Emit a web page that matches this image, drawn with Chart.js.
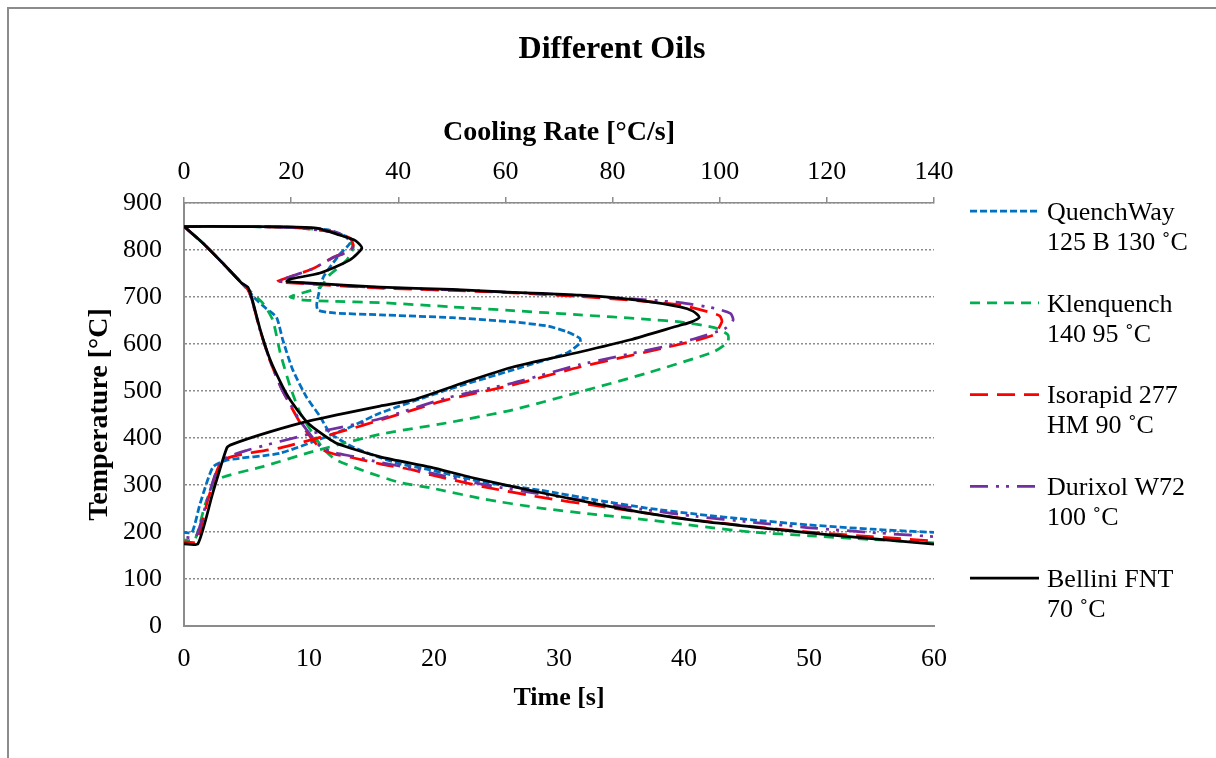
<!DOCTYPE html>
<html>
<head>
<meta charset="utf-8">
<script src="https://cdn.jsdelivr.net/npm/chart.js@4.4.0/dist/chart.umd.min.js"></script>
<style>
  html, body { margin: 0; padding: 0; background: #fff; overflow: hidden; }
  #frame { position: absolute; left: 7px; top: 7px; width: 1240px; height: 800px; border: 2px solid #8c8c8c; }
  #chart_one { position: absolute; left: 0; top: 0; }
</style>
</head>
<body>
<div id="frame"></div>
<canvas id="chart_one" width="1216" height="758"></canvas>
<script>
// cooling curves: time [s] vs temperature [°C]
var quenchTime = [0, 1.5, 3.1, 4.6, 5.2, 5.8, 6.6, 7.4, 7.9, 8.7, 9.8, 10.9, 11.7, 13.5, 15.7, 17.3, 19.7, 24, 28.5, 33, 37, 41, 45.4, 50, 55, 60];
var quenchTemp = [850, 815, 772, 730, 712, 694, 675, 657, 609, 545, 487, 445, 410, 381, 358, 345, 332, 306, 289, 268, 251, 238, 226, 215, 206, 199];

var klenTime = [0, 1.5, 3.1, 4.6, 5.3, 6.3, 7.1, 7.7, 8.5, 9.3, 10.3, 11.2, 12.2, 14.6, 17.3, 19.7, 24, 28.5, 33, 37, 41, 45.4, 50, 55, 60];
var klenTemp = [850, 815, 772, 730, 712, 687, 651, 581, 509, 453, 410, 375, 353, 328, 305, 294, 270, 251, 237, 226, 213, 200, 192, 184, 177];

var isoTime = [0, 1.5, 3.1, 4.6, 5.1, 5.4, 6.1, 6.9, 7.8, 8.5, 9.4, 10.9, 12, 13.5, 15.7, 18.3, 19.7, 24, 28.5, 33, 37, 41, 45.4, 50, 55, 60];
var isoTemp = [850, 815, 772, 730, 716, 697, 628, 563, 505, 470, 428, 378, 366, 358, 345, 332, 322, 296, 274, 256, 240, 225, 212, 200, 190, 181];

var duriTime = [0, 1.5, 3.1, 4.6, 5.1, 5.4, 6.1, 6.9, 7.8, 8.5, 9.4, 10.9, 12, 13.5, 15.7, 18.3, 19.7, 24, 28.5, 33, 37, 41, 45.4, 50, 55, 60];
var duriTemp = [850, 815, 772, 730, 716, 697, 628, 563, 505, 472, 432, 382, 369, 361, 348, 335, 326, 301, 281, 263, 247, 233, 221, 209, 199, 190];

var belliTime = [0, 1.5, 3.1, 4.6, 5.1, 5.4, 6.1, 6.9, 7.9, 8.5, 9.7, 10.3, 12.2, 15.7, 19.7, 23, 28.5, 33, 37, 41, 45.4, 50, 55, 60];
var belliTemp = [850, 815, 772, 730, 721, 700, 630, 566, 509, 481, 438, 423, 389, 360, 338, 316, 284, 260, 240, 224, 211, 198, 186, 174];

// cooling rate curves: rate [°C/s] vs temperature [°C]
var quenchRate = [0, 10, 20, 27, 30, 31, 29, 26, 24.8, 25, 28, 36.6, 50, 61.4, 68, 71.5, 73.9, 73.9, 71.5, 61.4, 49, 36.6, 30.4, 18, 8, 5.4, 3, 1.5, 0];
var quenchRateTemp = [850, 850, 848, 843, 830, 815, 790, 742, 687, 672, 666, 662, 656, 647, 638, 626, 612, 602, 581, 545, 502, 453, 420, 368, 353, 338, 260, 199, 199];

var klenRate = [0, 10, 20, 27, 30.4, 31.6, 30.4, 27, 25.4, 21, 19.8, 22, 27, 36.6, 50, 61.4, 73.9, 86, 92.6, 99, 101.5, 101.5, 98.8, 86.4, 73.9, 61.4, 49, 36.6, 24, 14.7, 6.2, 4, 2, 0];
var klenRateTemp = [850, 850, 848, 840, 826, 806, 779, 745, 721, 705, 700, 694, 691, 688, 679, 671, 662, 653, 647, 635, 620, 604, 583, 538, 498, 460, 432, 408, 371, 339, 311, 260, 183, 183];

var isoRate = [0, 10, 20, 28, 31, 31.6, 31, 28, 24, 19, 17.4, 18.5, 23, 36.6, 50, 61.4, 73.9, 85, 92.6, 97, 100, 100.4, 98.8, 89.4, 73.9, 61.4, 49, 36.6, 30.4, 18, 7.3, 4.5, 2.3, 0];
var isoRateTemp = [850, 850, 848, 838, 825, 810, 798, 785, 760, 740, 733, 731, 728, 719, 714, 709, 701, 692, 683, 671, 660, 647, 619, 591, 551, 513, 481, 438, 417, 379, 353, 270, 179, 179];

var duriRate = [0, 10, 20, 28, 31, 31.6, 31, 28, 24, 19, 17.6, 18.5, 23, 36.6, 50, 61.4, 73.9, 85, 92.6, 99, 102, 102.5, 101, 95, 89.4, 73.9, 61.4, 49, 36.6, 24, 11.8, 7, 4.5, 2.2, 0];
var duriRateTemp = [850, 850, 848, 838, 825, 810, 798, 785, 760, 740, 734, 732, 729, 720, 715, 710, 703, 695, 688, 676, 665, 651, 633, 610, 594, 556, 517, 485, 441, 410, 374, 352, 275, 189, 189];

var belliRate = [0, 10, 20, 25, 29, 32, 33.2, 31, 25.4, 19.8, 19.2, 23, 36.6, 50, 61.4, 73.9, 85, 92.6, 95, 96.2, 94.5, 92.6, 83.3, 73.9, 61.4, 52, 42.7, 36.6, 24, 16, 9.1, 8, 5.3, 2.6, 0];
var belliRateTemp = [850, 850, 849, 846, 832, 820, 804, 779, 751, 738, 733, 730, 721, 716, 710, 704, 693, 679, 670, 657, 646, 640, 609, 583, 551, 517, 481, 468, 438, 413, 387, 379, 280, 175, 175];

var oilNames = [
  ['QuenchWay', '125 B 130 \u02DAC'],
  ['Klenquench', '140 95 \u02DAC'],
  ['Isorapid 277', 'HM 90 \u02DAC'],
  ['Durixol W72', '100 \u02DAC'],
  ['Bellini FNT', '70 \u02DAC']
];

var coolTimes = [quenchTime, klenTime, isoTime, duriTime, belliTime];
var coolTemps = [quenchTemp, klenTemp, isoTemp, duriTemp, belliTemp];
var rates = [quenchRate, klenRate, isoRate, duriRate, belliRate];
var rateTemps = [quenchRateTemp, klenRateTemp, isoRateTemp, duriRateTemp, belliRateTemp];

var oilStyles = [
  { color: '#0070C0', dash: [7, 3] },
  { color: '#00B050', dash: [10, 7] },
  { color: '#FF0000', dash: [18, 9] },
  { color: '#7030A0', dash: [18, 8, 3, 7, 3, 8] },
  { color: '#000000', dash: [] }
];

var serif = '"Liberation Serif", "Times New Roman", serif';
var gridGray = '#8c8c8c';

function pts(xs, ys) {
  return xs.map(function (x, i) { return { x: x, y: ys[i] }; });
}

var datasets = [];
for (var i = 0; i < oilNames.length; i++) {
  var st = oilStyles[i];
  var base = {
    borderColor: st.color,
    borderDash: st.dash,
    borderWidth: 2.75,
    pointRadius: 0,
    showLine: true,
    fill: false,
    tension: 0.2,
    order: oilNames.length - i
  };
  datasets.push(Object.assign({ label: oilNames[i].join(' '), data: pts(coolTimes[i], coolTemps[i]), xAxisID: 'x', yAxisID: 'y' }, base));
  datasets.push(Object.assign({ label: oilNames[i].join(' ') + ' rate', data: pts(rates[i], rateTemps[i]), xAxisID: 'x2', yAxisID: 'y' }, base));
}

// two-line legend on the right
var sideLegend = {
  id: 'sideLegend',
  afterDraw: function (chart) {
    var ctx = chart.ctx;
    ctx.save();
    for (var i = 0; i < oilNames.length; i++) {
      var st = oilStyles[i];
      var y = 211 + i * 91.75;
      ctx.beginPath();
      ctx.strokeStyle = st.color;
      ctx.lineWidth = 2.75;
      ctx.setLineDash(st.dash);
      ctx.moveTo(970, y);
      ctx.lineTo(1039, y);
      ctx.stroke();
      ctx.setLineDash([]);
      ctx.fillStyle = '#000';
      ctx.font = '26px ' + serif;
      ctx.textBaseline = 'middle';
      ctx.textAlign = 'left';
      ctx.fillText(oilNames[i][0], 1047, y + 2);
      ctx.fillText(oilNames[i][1], 1047, y + 32);
    }
    ctx.restore();
  }
};

var chartCanvas = document.getElementById('chart_one');

var lineChart = new Chart(chartCanvas, {
  type: 'scatter',
  data: { datasets: datasets },
  plugins: [sideLegend],
  options: {
    responsive: false,
    animation: false,
    devicePixelRatio: 1,
    layout: { padding: { left: 8, right: 0, top: 0, bottom: 32 } },
    plugins: {
      legend: { display: false },
      tooltip: { enabled: false },
      title: {
        display: true,
        text: 'Different Oils',
        color: '#000',
        font: { family: serif, size: 32, weight: 'bold' },
        padding: { top: 31, bottom: 0 }
      }
    },
    scales: {
      x: {
        type: 'linear',
        position: 'bottom',
        min: 0,
        max: 60,
        ticks: { stepSize: 10, color: '#000', font: { family: serif, size: 26 }, padding: 18 },
        grid: { display: false, drawTicks: false },
        border: { display: true, color: gridGray, width: 2 },
        title: { display: true, text: 'Time [s]', color: '#000', font: { family: serif, size: 26, weight: 'bold' }, padding: { top: 0, bottom: 12 } },
        afterFit: function (s) { s.height = 100; }
      },
      x2: {
        type: 'linear',
        position: 'top',
        min: 0,
        max: 140,
        ticks: { stepSize: 20, color: '#000', font: { family: serif, size: 26 }, padding: 9 },
        grid: { display: true, drawOnChartArea: false, drawTicks: true, tickLength: 6, color: gridGray, lineWidth: 1.5 },
        border: { display: true, color: gridGray, width: 1.5 },
        title: { display: true, text: 'Cooling Rate [°C/s]', color: '#000', font: { family: serif, size: 28, weight: 'bold' }, padding: { top: 47, bottom: 0 } },
        afterFit: function (s) { s.height = 133.6; }
      },
      y: {
        min: 0,
        max: 900,
        ticks: { stepSize: 100, color: '#000', font: { family: serif, size: 26 }, padding: 22 },
        grid: { color: gridGray, lineWidth: 1.5, drawTicks: false },
        border: { display: true, color: gridGray, width: 2, dash: [2, 2] },
        title: { display: true, text: 'Temperature [°C]', color: '#000', font: { family: serif, size: 28, weight: 'bold' }, padding: { top: 75, bottom: 0 } },
        afterFit: function (s) { s.width = 176; }
      },
      // empty box that keeps the right side free for the legend
      side: {
        type: 'linear',
        position: 'right',
        display: true,
        ticks: { display: false },
        grid: { display: false, drawTicks: false },
        border: { display: false },
        afterFit: function (s) { s.width = 282; }
      }
    }
  }
});
</script>
</body>
</html>
